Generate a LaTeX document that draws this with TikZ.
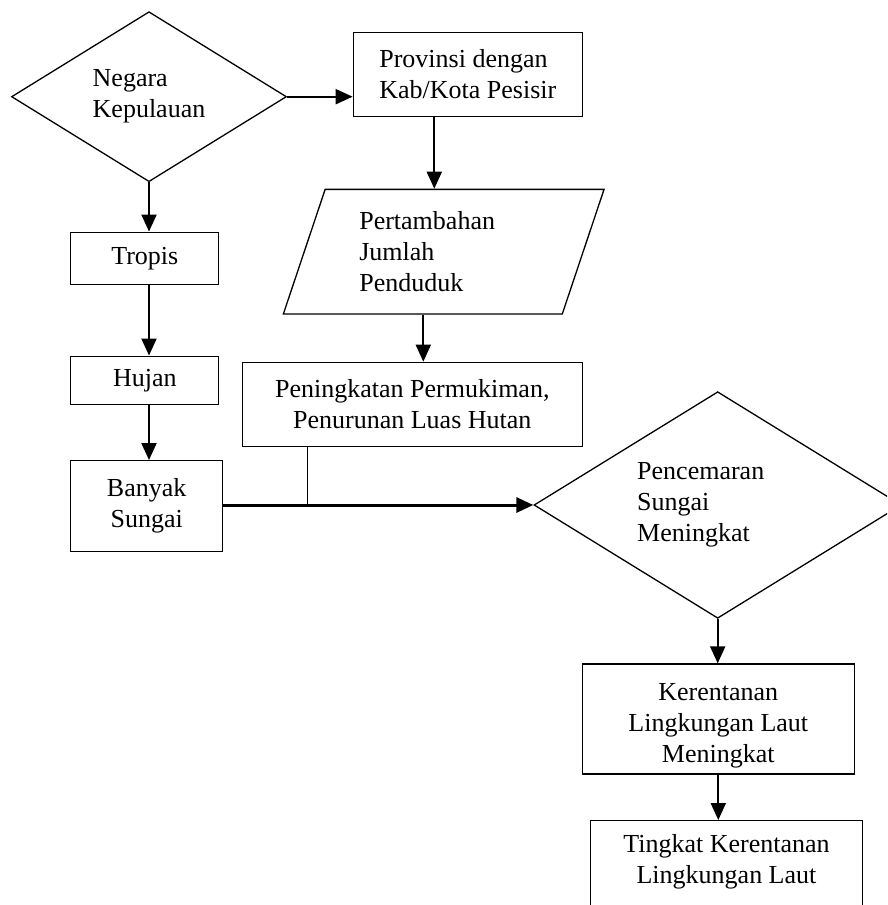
\documentclass[tikz,border=0pt]{standalone}
\usepackage{fontspec}
\setmainfont{Liberation Serif}
\usetikzlibrary{arrows.meta,shapes.geometric}
\newcommand{\garis}{1.3pt}
\newcommand{\panah}{2pt}

\begin{document}
\begin{tikzpicture}[x=1pt,y=-1pt,every node/.style={font=\fontsize{26}{31}\selectfont}]
    \tikzset{
        kotak/.style = {draw, line width=\garis, inner sep=0pt, align=center},
        belah/.style = {draw, diamond, aspect=1.62, line width=\garis, inner sep=0pt, align=left},
        jajar/.style = {draw, trapezium, trapezium left angle=62.5, trapezium right angle=117.5,
                        trapezium stretches body, line width=\garis, inner sep=0pt, align=left},
        alir/.style = {line width=\panah, -{Triangle[length=17pt,width=15pt]}},
    }
    \clip (0,0) rectangle (887,905);
    % kiri
    \node[belah, minimum width=275pt, minimum height=170pt] (negara) at (149,96.7) {Negara\\Kepulauan};
    \node[kotak, minimum width=148pt, minimum height=52pt] (tropis) at (144.8,258.2) {Tropis};
    \node[kotak, minimum width=148pt, minimum height=48pt] (hujan) at (144.8,380.2) {Hujan};
    \node[kotak, minimum width=152pt, minimum height=91pt] (banyak) at (146.7,506.2) {Banyak\\Sungai};
    % tengah
    \node[kotak, align=left, minimum width=229pt, minimum height=84.4pt] (provinsi) at (467.8,74.5) {Provinsi dengan\\Kab/Kota Pesisir};
    \node[jajar, text width=168.8pt, minimum width=320.7pt, minimum height=124.7pt] (penduduk) at (443.7,251.7) {Pertambahan\\Jumlah\\Penduduk};
    \node[kotak, minimum width=340pt, minimum height=84.4pt] (peningkatan) at (412.3,404.5) {Peningkatan Permukiman,\\Penurunan Luas Hutan};
    % kanan
    \node[belah, text width=161pt, minimum width=367.4pt, minimum height=226.6pt] (pencemaran) at (717.7,505) {Pencemaran\\Sungai\\Meningkat};
    \node[kotak, text height=92pt, minimum width=272pt, minimum height=110pt] (kerentanan) at (718.3,719) {Kerentanan\\Lingkungan Laut\\Meningkat};
    \node[kotak, anchor=north, inner ysep=14pt, text depth=40pt, minimum width=271.6pt] (tingkat) at (726.5,820) {Tingkat Kerentanan\\Lingkungan Laut};

    \draw[alir] (negara.east) -- (negara.east -| provinsi.west);
    \draw[alir] ([xshift=-33.5pt]provinsi.south) -- ([xshift=-33.5pt]provinsi.south |- penduduk.north);
    \draw[alir] (negara.south) -- (negara.south |- tropis.north);
    \draw[alir] (tropis.south -| negara.south) -- (negara.south |- hujan.north);
    \draw[alir] (hujan.south -| negara.south) -- (negara.south |- banyak.north);
    \draw[alir] ([xshift=11pt]peningkatan.north |- penduduk.south) -- ([xshift=11pt]peningkatan.north);
    \draw[alir, line width=3pt] (banyak.east |- pencemaran.west) -- (pencemaran.west);
    \draw[line width=1.5pt] ([xshift=-105pt]peningkatan.south) -- ([xshift=-105pt]peningkatan.south |- pencemaran.west);
    \draw[alir] (pencemaran.south) -- (pencemaran.south |- kerentanan.north);
    \draw[alir] (kerentanan.south) -- (kerentanan.south |- tingkat.north);
\end{tikzpicture}
\end{document}
